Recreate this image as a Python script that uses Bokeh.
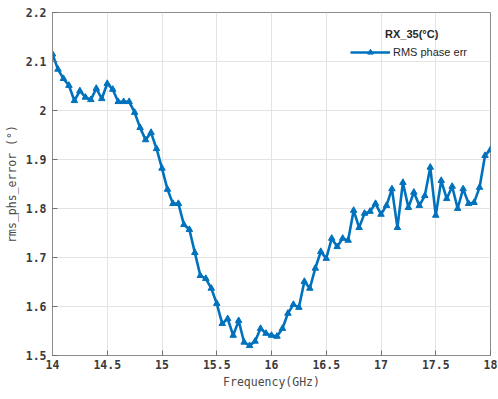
from bokeh.plotting import figure
from bokeh.models import (ColumnDataSource, FixedTicker, Legend, LegendItem, Label, Range1d)
from bokeh.embed import file_html
from bokeh.resources import INLINE

# ---- data ----
freq_ghz = [14.00, 14.05, 14.10, 14.15, 14.20, 14.25, 14.30, 14.35, 14.40, 14.45,
            14.50, 14.55, 14.60, 14.65, 14.70, 14.75, 14.80, 14.85, 14.90, 14.95,
            15.00, 15.05, 15.10, 15.15, 15.20, 15.25, 15.30, 15.35, 15.40, 15.45,
            15.50, 15.55, 15.60, 15.65, 15.70, 15.75, 15.80, 15.85, 15.90, 15.95,
            16.00, 16.05, 16.10, 16.15, 16.20, 16.25, 16.30, 16.35, 16.40, 16.45,
            16.50, 16.55, 16.60, 16.65, 16.70, 16.75, 16.80, 16.85, 16.90, 16.95,
            17.00, 17.05, 17.10, 17.15, 17.20, 17.25, 17.30, 17.35, 17.40, 17.45,
            17.50, 17.55, 17.60, 17.65, 17.70, 17.75, 17.80, 17.85, 17.90, 17.95,
            18.00]
rms_phase_err = [2.115, 2.084, 2.065, 2.051, 2.020, 2.040, 2.027, 2.022, 2.045, 2.024,
                 2.055, 2.043, 2.018, 2.018, 2.018, 1.996, 1.965, 1.940, 1.955, 1.922,
                 1.882, 1.839, 1.810, 1.810, 1.767, 1.757, 1.710, 1.663, 1.657, 1.637,
                 1.606, 1.565, 1.575, 1.541, 1.571, 1.527, 1.520, 1.529, 1.555, 1.545,
                 1.541, 1.539, 1.555, 1.586, 1.604, 1.598, 1.651, 1.637, 1.678, 1.712,
                 1.698, 1.739, 1.722, 1.739, 1.735, 1.796, 1.761, 1.790, 1.794, 1.810,
                 1.788, 1.806, 1.840, 1.761, 1.853, 1.802, 1.833, 1.806, 1.826, 1.884,
                 1.786, 1.857, 1.820, 1.845, 1.800, 1.840, 1.810, 1.812, 1.843, 1.908,
                 1.920]
x_ticks = [14, 14.5, 15, 15.5, 16, 16.5, 17, 17.5, 18]
x_tick_labels = ["14", "14.5", "15", "15.5", "16", "16.5", "17", "17.5", "18"]
y_ticks = [1.5, 1.6, 1.7, 1.8, 1.9, 2.0, 2.1, 2.2]
y_tick_labels = ["1.5", "1.6", "1.7", "1.8", "1.9", "2", "2.1", "2.2"]
series_name = "RMS phase err"
legend_title = "RX_35(\u00b0C)"
x_label = "Frequency(GHz)"
y_label = "rms_phs_error (\u00b0)"

src = ColumnDataSource(data=dict(x=freq_ghz, y=rms_phase_err))

p = figure(width=498, height=399, output_backend="svg", toolbar_location=None,
           x_range=Range1d(14, 18), y_range=Range1d(1.5, 2.2),
           min_border_left=52, min_border_right=8, min_border_top=12, min_border_bottom=44)
p.background_fill_color = "white"
p.border_fill_color = "white"
p.outline_line_color = "#8c8c8c"
p.outline_line_width = 1

tick_font = "DejaVu Sans Mono"
for ax, ticks, labels in ((p.xaxis[0], x_ticks, x_tick_labels), (p.yaxis[0], y_ticks, y_tick_labels)):
    ax.ticker = FixedTicker(ticks=ticks)
    ax.major_label_overrides = {t: l for t, l in zip(ticks, labels)}
    ax.minor_tick_line_color = None
    ax.major_tick_in = 5
    ax.major_tick_out = 0
    ax.major_tick_line_color = "#707070"
    ax.axis_line_color = "#8c8c8c"
    ax.major_label_text_font = tick_font
    ax.major_label_text_font_size = "11.5px"
    ax.major_label_text_font_style = "bold"
    ax.major_label_text_color = "#3a3a3a"
    ax.axis_label_text_font = tick_font
    ax.axis_label_text_font_size = "11.5px"
    ax.axis_label_text_font_style = "normal"
    ax.axis_label_text_color = "#4a4a4a"

p.xaxis.axis_label = x_label
p.yaxis.axis_label = y_label
p.xaxis.major_label_standoff = 4
p.xaxis.axis_label_standoff = 3
p.yaxis.major_label_standoff = 6
p.yaxis.axis_label_standoff = 4

p.xgrid.ticker = FixedTicker(ticks=x_ticks)
p.ygrid.ticker = FixedTicker(ticks=y_ticks)
p.grid.grid_line_color = "#e3e3e3"
p.grid.grid_line_width = 1

color = "#0072BD"
ln = p.line("x", "y", source=src, line_color=color, line_width=2.6)
mk = p.scatter("x", "y", source=src, marker="triangle", size=6.5,
               fill_color=color, line_color=color)

legend = Legend(items=[LegendItem(label=series_name, renderers=[ln, mk])],
                location=(298, 296), padding=0, margin=0, spacing=0,
                glyph_width=40, glyph_height=14, label_standoff=3,
                label_text_font="Liberation Sans", label_text_font_size="11px",
                label_text_color="#262626",
                border_line_alpha=0, background_fill_alpha=0)
p.add_layout(legend, "center")

title_lbl = Label(x=17.28, y=2.157, text=legend_title, text_align="center",
                  text_baseline="middle", text_font="Liberation Sans",
                  text_font_size="11px", text_font_style="bold", text_color="#262626")
p.add_layout(title_lbl)

open("out.html", "w").write(file_html(p, INLINE))
